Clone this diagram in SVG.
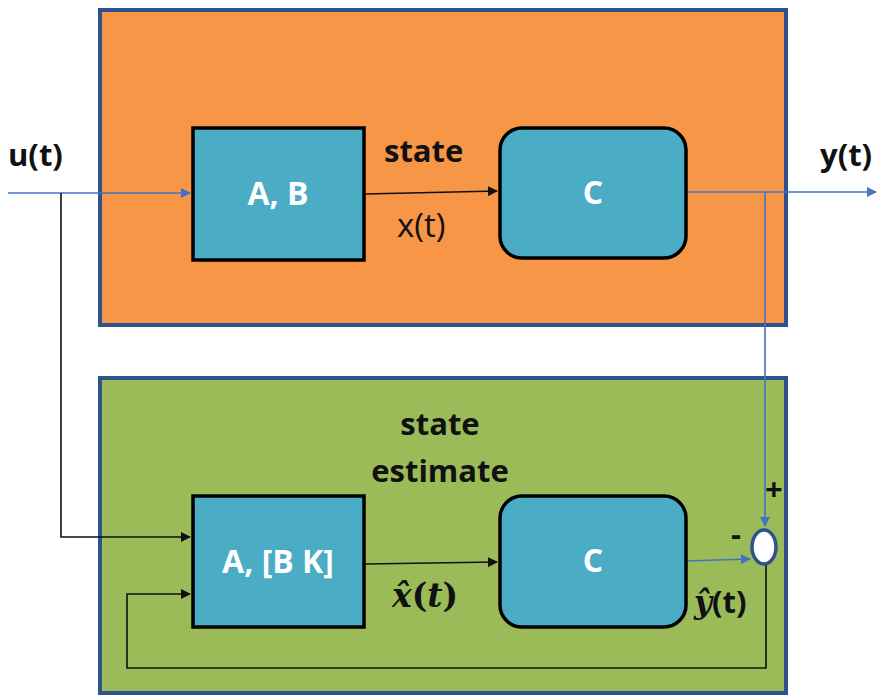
<svg xmlns="http://www.w3.org/2000/svg" width="878" height="695" viewBox="0 0 878 695">
<style>
.panel{stroke:#2F528F;stroke-width:4}
.blk{fill:#4BACC6;stroke:#000;stroke-width:3.5}
.wt{fill:#fff;font-family:"Open Sans","Liberation Sans",sans-serif;font-weight:bold;font-size:32px;text-anchor:middle}
.lb{fill:#111;font-family:"Open Sans","Liberation Sans",sans-serif;font-weight:bold;font-size:31px}
.bl{stroke:#4472C4;stroke-width:1.6;fill:none}
.bk{stroke:#111;stroke-width:1.6;fill:none}
</style>
<defs>
<marker id="ab" markerWidth="10" markerHeight="10" refX="9" refY="5" orient="auto" markerUnits="userSpaceOnUse"><path d="M0,0 L10,5 L0,10 z" fill="#4472C4"/></marker>
<marker id="ak" markerWidth="10" markerHeight="10" refX="9" refY="5" orient="auto" markerUnits="userSpaceOnUse"><path d="M0,0 L10,5 L0,10 z" fill="#111"/></marker>
</defs>
<rect width="878" height="695" fill="#fff"/>
<g id="plant"><rect class="panel" x="100" y="10" width="686" height="315" fill="#F79646"/></g>
<g id="observer"><rect class="panel" x="100" y="378" width="686" height="315" fill="#9BBB59"/></g>
<g id="connectors">
<path class="bl" d="M8,193 H190" marker-end="url(#ab)"/>
<path class="bk" d="M61,193 V537 H190" marker-end="url(#ak)"/>
<path class="bk" d="M365,194 L497,191" marker-end="url(#ak)"/>
<path class="bl" d="M686,192 H876" marker-end="url(#ab)"/>
<path class="bl" d="M765,192 V526" marker-end="url(#ab)"/>
<path class="bk" d="M365,564 L497,562" marker-end="url(#ak)"/>
<path class="bl" d="M686,561 L750,559" marker-end="url(#ab)"/>
<path class="bk" d="M766,565 V668 H127 V594 H190" marker-end="url(#ak)"/>
</g>
<g id="AB"><rect class="blk" x="193" y="128" width="171" height="132"/><text class="wt" x="278" y="205">A, B</text></g>
<g id="C1"><rect class="blk" x="500" y="128" width="186" height="130" rx="22"/><text class="wt" x="593" y="204">C</text></g>
<g id="ABK"><rect class="blk" x="193" y="496" width="171" height="131"/><text class="wt" x="278" y="573">A, [B K]</text></g>
<g id="C2"><rect class="blk" x="500" y="496" width="186" height="131" rx="22"/><text class="wt" x="593" y="572">C</text></g>
<g id="sum"><ellipse cx="764" cy="547" rx="12" ry="17" fill="#fff" stroke="#2F528F" stroke-width="3.5"/></g>
<g id="labels">
<text class="lb" x="8" y="166">u(t)</text>
<text class="lb" x="820" y="166">y(t)</text>
<text class="lb" x="384" y="162">state</text>
<text x="397" y="237" fill="#111" font-family="'Open Sans','Liberation Sans',sans-serif" font-size="33">x(t)</text>
<text class="lb" x="440" y="435" text-anchor="middle">state</text>
<text class="lb" x="440" y="482" text-anchor="middle">estimate</text>
<text x="392" y="607" fill="#111" font-family="'DejaVu Serif','Liberation Serif',serif" font-weight="bold" font-size="33"><tspan font-style="italic">x̂</tspan>(<tspan font-style="italic">t</tspan>)</text>
<text x="694" y="613" fill="#111" font-family="'Open Sans','Liberation Sans',sans-serif" font-weight="bold" font-size="31"><tspan font-family="'DejaVu Serif',serif" font-style="italic">ŷ</tspan>(t)</text>
<text class="lb" x="765" y="500" font-size="28">+</text>
<text class="lb" x="731" y="545" font-size="28">-</text>
</g>
</svg>
